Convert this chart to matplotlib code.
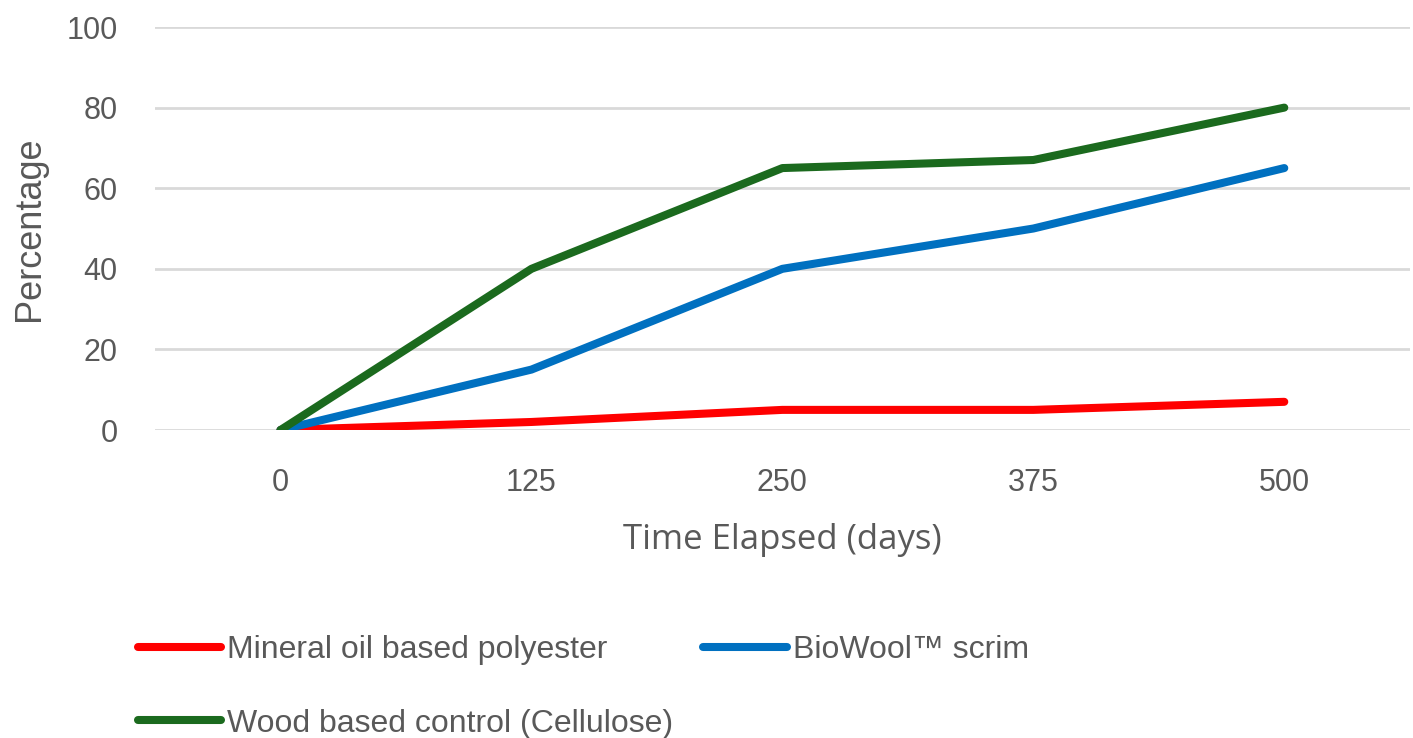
import matplotlib.pyplot as plt
from matplotlib import font_manager

days = ['0', '125', '250', '375', '500']
polyester = [0, 2, 5, 5, 7]
biowool = [0, 15, 40, 50, 65]
cellulose = [0, 40, 65, 67, 80]

names = ['Mineral oil based polyester', 'BioWool\u2122 scrim',
         'Wood based control (Cellulose)']
colors = ['#FF0000', '#0070C0', '#1B6A1E']
grey = '#595959'

installed = {f.name for f in font_manager.fontManager.ttflist}
narrow = 'Liberation Sans Narrow' if 'Liberation Sans Narrow' in installed else 'Liberation Sans'

fig = plt.figure(figsize=(14.13, 7.38), dpi=100)
ax = fig.add_axes([0.1097, 0.4173, 0.888, 0.5461])

x = range(len(days))
lines = []
for vals, name, c in zip([polyester, biowool, cellulose], names, colors):
    ln, = ax.plot(x, vals, color=c, lw=5.8, solid_capstyle='round',
                  solid_joinstyle='round', label=name)
    lines.append(ln)

ax.set_xlim(-0.5, len(days) - 0.5)
ax.set_ylim(0, 100)
ax.set_yticks([0, 20, 40, 60, 80, 100])
ax.set_xticks(list(x))
ax.set_xticklabels(days)
ax.yaxis.grid(True, color='#D9D9D9', lw=2)
ax.set_axisbelow(True)
for s in ax.spines.values():
    s.set_visible(False)
ax.tick_params(length=0, labelsize=22, labelcolor=grey)
for lab in ax.get_xticklabels() + ax.get_yticklabels():
    lab.set_family('Liberation Sans')
ax.tick_params(axis='y', pad=27)
ax.tick_params(axis='x', pad=27)

ax.set_ylabel('Percentage', fontsize=26, color=grey, family='Liberation Sans', labelpad=14)
ax.set_xlabel('Time Elapsed (days)', fontsize=25, color=grey, family='Open Sans', labelpad=18)

fig.legend([lines[0], lines[2], lines[1]], [names[0], names[2], names[1]],
           ncol=2, loc='upper left', bbox_to_anchor=(0.077, 0.178),
           frameon=False, handlelength=2.6, handletextpad=0.2,
           columnspacing=0.95, labelspacing=1.35,
           prop={'family': narrow, 'size': 23}, labelcolor=grey)

fig.savefig('out.png', dpi=100)
